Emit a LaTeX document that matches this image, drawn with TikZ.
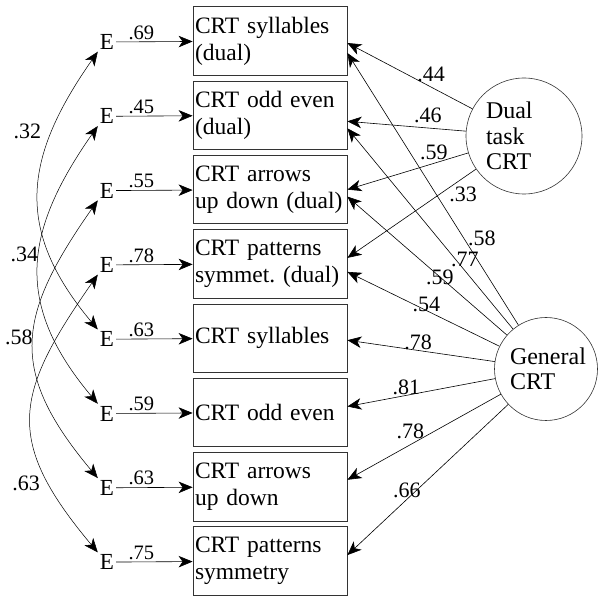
\documentclass[tikz,border=0pt]{standalone}
\usepackage{fontspec}
\setmainfont{Liberation Serif}
\usetikzlibrary{arrows.meta}

\begin{document}
\begin{tikzpicture}[x=1pt, y=1pt,
    obs/.style={draw=black!80, line width=0.8pt, minimum width=154pt, minimum height=68.5pt,
      text width=150pt, inner xsep=2pt, inner ysep=4pt, align=left, font=\fontsize{23.5}{27}\selectfont},
    latent/.style={circle, draw=black!80, line width=0.6pt, inner sep=0pt, align=left,
      font=\fontsize{24}{25.5}\selectfont},
    err/.style={inner sep=2pt, font=\fontsize{23}{23}\selectfont},
    lbl/.style={inner sep=0pt, font=\fontsize{20.5}{20.5}\selectfont},
    rlbl/.style={inner sep=0pt, font=\fontsize{22}{22}\selectfont},
    load/.style={-{Stealth[length=14pt,width=11.5pt,inset=4pt]}, line width=0.6pt},
    cov/.style={{Stealth[length=14pt,width=11.5pt,inset=4pt]}-{Stealth[length=14pt,width=11.5pt,inset=4pt]}, line width=0.5pt}]
    \useasboundingbox (0,0) rectangle (598,-596);

    % Observed measures
    \node[obs] (b1) at (270,-41) {CRT syllables\\(dual)};
    \node[obs] (b2) at (270,-115.3) {CRT odd even\\(dual)};
    \node[obs] (b3) at (270,-189.6) {CRT arrows\\up down (dual)};
    \node[obs] (b4) at (270,-263.9) {CRT patterns\\symmet.\ (dual)};
    \node[obs] (b5) at (270,-338.2) {CRT syllables};
    \node[obs] (b6) at (270,-412.5) {CRT odd even};
    \node[obs] (b7) at (270,-486.8) {CRT arrows\\up down};
    \node[obs] (b8) at (270,-561.1) {CRT patterns\\symmetry};

    % Error terms
    \node[err] (e1) at (107,-42) {E};
    \node[err] (e2) at (107,-116.3) {E};
    \node[err] (e3) at (107,-190.6) {E};
    \node[err] (e4) at (107,-264.9) {E};
    \node[err] (e5) at (107,-339.2) {E};
    \node[err] (e6) at (107,-413.5) {E};
    \node[err] (e7) at (107,-487.8) {E};
    \node[err] (e8) at (107,-562.1) {E};

    % Latent factors
    \node[latent, minimum size=116pt, text width=76pt] (dual) at (524,-136) {Dual\\task\\CRT};
    \node[latent, minimum size=103pt, text width=72pt] (gen) at (546,-369) {General\\CRT};

    % Error paths
    \draw[load] (e1) -- (b1) node[lbl, pos=0.33, above=2pt] {.69};
    \draw[load] (e2) -- (b2) node[lbl, pos=0.33, above=2pt] {.45};
    \draw[load] (e3) -- (b3) node[lbl, pos=0.33, above=2pt] {.55};
    \draw[load] (e4) -- (b4) node[lbl, pos=0.33, above=2pt] {.78};
    \draw[load] (e5) -- (b5) node[lbl, pos=0.33, above=2pt] {.63};
    \draw[load] (e6) -- (b6) node[lbl, pos=0.33, above=2pt] {.59};
    \draw[load] (e7) -- (b7) node[lbl, pos=0.33, above=2pt] {.63};
    \draw[load] (e8) -- (b8) node[lbl, pos=0.33, above=2pt] {.75};

    % Error covariances
    \draw[cov] (e1.south west) to[out=235, in=130, looseness=1.2] node[rlbl, pos=0.27, left=11pt] {.32} (e5.north west);
    \draw[cov] (e2.south west) to[out=235, in=130, looseness=1.2] node[rlbl, pos=0.45, left=1pt] {.34} (e6.north west);
    \draw[cov] (e3.south west) to[out=235, in=130, looseness=1.3] node[rlbl, pos=0.48, left=1pt] {.58} (e7.north west);
    \draw[cov] (e4.south west) to[out=235, in=130, looseness=1.35] node[rlbl, pos=0.77, left=9pt] {.63} (e8.north west);

    % Dual task loadings
    \draw[load] (dual) -- ([yshift=-2pt]b1.east) node[rlbl, pos=0.33, yshift=13pt] {.44};
    \draw[load] (dual) -- ([yshift=-6pt]b2.east) node[rlbl, pos=0.32, yshift=13pt] {.46};
    \draw[load] (dual) -- (b3.east) node[rlbl, pos=0.285, yshift=11pt] {.59};
    \draw[load] (dual) -- ([yshift=6pt]b4.east) node[rlbl, pos=0.1, yshift=-16pt] {.33};

    % General loadings
    \draw[load] (gen) -- ([yshift=-12pt]b1.east) node[rlbl, pos=0.32, right=4pt] {.58};
    \draw[load] (gen) -- ([yshift=-13pt]b2.east) node[rlbl, pos=0.345, xshift=9pt] {.77};
    \draw[load] (gen) -- ([yshift=-7pt]b3.east) node[rlbl, pos=0.42] {.59};
    \draw[load] (gen) -- ([yshift=-8pt]b4.east) node[rlbl, pos=0.48, yshift=6pt] {.54};
    \draw[load] (gen) -- ([yshift=-2pt]b5.east) node[rlbl, pos=0.52, yshift=8pt] {.78};
    \draw[load] (gen) -- ([yshift=6pt]b6.east) node[rlbl, pos=0.6, yshift=8pt] {.81};
    \draw[load] (gen) -- ([yshift=7pt]b7.east) node[rlbl, pos=0.59, yshift=13pt] {.78};
    \draw[load] (gen) -- ([yshift=6pt]b8.east) node[rlbl, pos=0.63, yshift=9pt] {.66};
\end{tikzpicture}
\end{document}
